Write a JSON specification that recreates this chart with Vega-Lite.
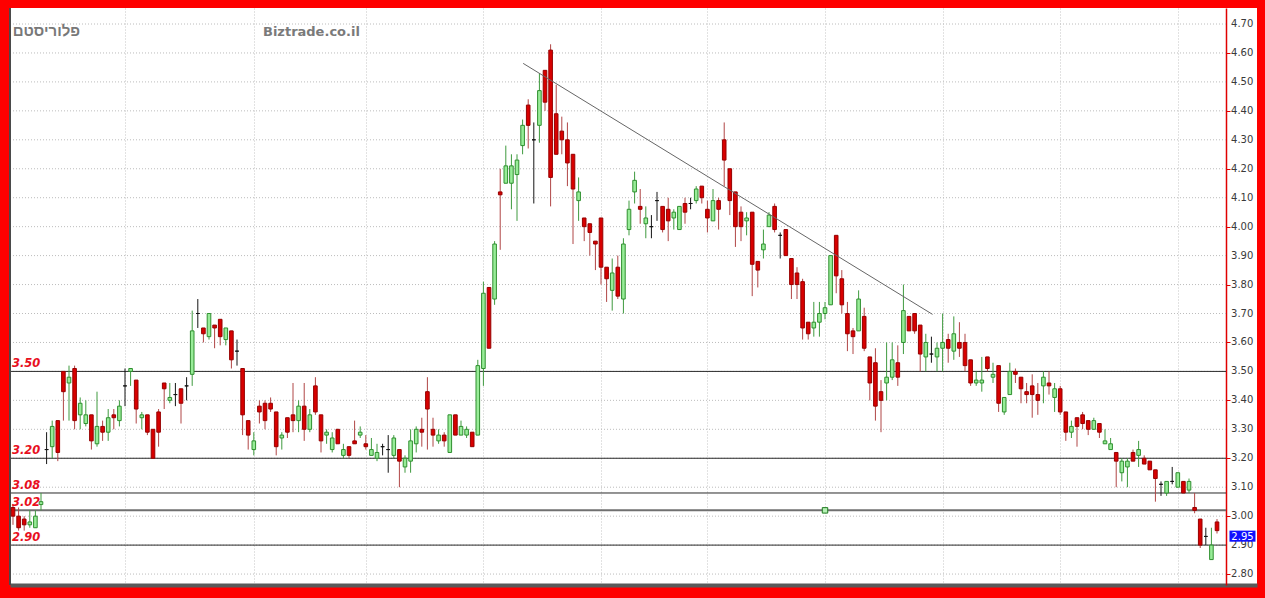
{
  "$schema": "https://vega.github.io/schema/vega-lite/v6.json",
  "width": 1247,
  "height": 577,
  "autosize": {"type": "none"},
  "padding": {"left": 10, "top": 8, "right": 8, "bottom": 13},
  "background": "#fe0000",
  "config": {"view": {"fill": "#ffffff", "stroke": null}},
  "datasets": {
    "candles": [
      {"d":0,"open":3.03,"high":3.04,"low":2.97,"close":3.00},
      {"d":1,"open":3.00,"high":3.03,"low":2.95,"close":2.96},
      {"d":2,"open":2.99,"high":3.00,"low":2.95,"close":2.97},
      {"d":3,"open":2.97,"high":3.02,"low":2.96,"close":2.98},
      {"d":4,"open":2.96,"high":3.02,"low":2.96,"close":3.00},
      {"d":5,"open":3.04,"high":3.08,"low":3.02,"close":3.05},
      {"d":6,"open":3.23,"high":3.29,"low":3.18,"close":3.23},
      {"d":7,"open":3.24,"high":3.33,"low":3.20,"close":3.31},
      {"d":8,"open":3.33,"high":3.33,"low":3.19,"close":3.22},
      {"d":9,"open":3.50,"high":3.50,"low":3.33,"close":3.43},
      {"d":10,"open":3.46,"high":3.52,"low":3.33,"close":3.48},
      {"d":11,"open":3.51,"high":3.52,"low":3.30,"close":3.33},
      {"d":12,"open":3.35,"high":3.41,"low":3.30,"close":3.39},
      {"d":13,"open":3.32,"high":3.40,"low":3.31,"close":3.35},
      {"d":14,"open":3.35,"high":3.35,"low":3.23,"close":3.26},
      {"d":15,"open":3.25,"high":3.43,"low":3.24,"close":3.31},
      {"d":16,"open":3.31,"high":3.33,"low":3.26,"close":3.29},
      {"d":17,"open":3.29,"high":3.37,"low":3.26,"close":3.34},
      {"d":18,"open":3.35,"high":3.37,"low":3.30,"close":3.34},
      {"d":19,"open":3.33,"high":3.40,"low":3.31,"close":3.38},
      {"d":20,"open":3.45,"high":3.51,"low":3.38,"close":3.45},
      {"d":21,"open":3.50,"high":3.51,"low":3.45,"close":3.51},
      {"d":22,"open":3.47,"high":3.47,"low":3.32,"close":3.37},
      {"d":23,"open":3.34,"high":3.36,"low":3.30,"close":3.35},
      {"d":24,"open":3.35,"high":3.35,"low":3.28,"close":3.29},
      {"d":25,"open":3.30,"high":3.30,"low":3.20,"close":3.20},
      {"d":26,"open":3.36,"high":3.37,"low":3.24,"close":3.29},
      {"d":27,"open":3.46,"high":3.46,"low":3.37,"close":3.44},
      {"d":28,"open":3.40,"high":3.46,"low":3.39,"close":3.41},
      {"d":29,"open":3.42,"high":3.46,"low":3.38,"close":3.42},
      {"d":30,"open":3.44,"high":3.44,"low":3.32,"close":3.39},
      {"d":31,"open":3.45,"high":3.48,"low":3.40,"close":3.45},
      {"d":32,"open":3.49,"high":3.71,"low":3.45,"close":3.64},
      {"d":33,"open":3.70,"high":3.75,"low":3.65,"close":3.70},
      {"d":34,"open":3.65,"high":3.65,"low":3.60,"close":3.63},
      {"d":35,"open":3.62,"high":3.70,"low":3.61,"close":3.70},
      {"d":36,"open":3.66,"high":3.66,"low":3.58,"close":3.65},
      {"d":37,"open":3.68,"high":3.68,"low":3.59,"close":3.62},
      {"d":38,"open":3.61,"high":3.65,"low":3.59,"close":3.65},
      {"d":39,"open":3.64,"high":3.64,"low":3.51,"close":3.54},
      {"d":40,"open":3.57,"high":3.61,"low":3.52,"close":3.57},
      {"d":41,"open":3.51,"high":3.51,"low":3.28,"close":3.35},
      {"d":42,"open":3.33,"high":3.33,"low":3.23,"close":3.28},
      {"d":43,"open":3.23,"high":3.29,"low":3.21,"close":3.26},
      {"d":44,"open":3.38,"high":3.40,"low":3.32,"close":3.36},
      {"d":45,"open":3.39,"high":3.40,"low":3.30,"close":3.33},
      {"d":46,"open":3.39,"high":3.41,"low":3.36,"close":3.37},
      {"d":47,"open":3.36,"high":3.36,"low":3.21,"close":3.24},
      {"d":48,"open":3.27,"high":3.29,"low":3.23,"close":3.28},
      {"d":49,"open":3.34,"high":3.34,"low":3.27,"close":3.29},
      {"d":50,"open":3.35,"high":3.46,"low":3.29,"close":3.33},
      {"d":51,"open":3.33,"high":3.40,"low":3.29,"close":3.38},
      {"d":52,"open":3.38,"high":3.46,"low":3.26,"close":3.30},
      {"d":53,"open":3.30,"high":3.37,"low":3.29,"close":3.35},
      {"d":54,"open":3.45,"high":3.48,"low":3.35,"close":3.36},
      {"d":55,"open":3.35,"high":3.35,"low":3.22,"close":3.26},
      {"d":56,"open":3.28,"high":3.30,"low":3.25,"close":3.29},
      {"d":57,"open":3.23,"high":3.29,"low":3.22,"close":3.27},
      {"d":58,"open":3.30,"high":3.30,"low":3.25,"close":3.25},
      {"d":59,"open":3.21,"high":3.25,"low":3.20,"close":3.23},
      {"d":60,"open":3.24,"high":3.24,"low":3.20,"close":3.21},
      {"d":61,"open":3.26,"high":3.33,"low":3.25,"close":3.25},
      {"d":62,"open":3.28,"high":3.31,"low":3.27,"close":3.29},
      {"d":63,"open":3.25,"high":3.28,"low":3.23,"close":3.24},
      {"d":64,"open":3.21,"high":3.27,"low":3.21,"close":3.23},
      {"d":65,"open":3.20,"high":3.25,"low":3.19,"close":3.22},
      {"d":66,"open":3.24,"high":3.25,"low":3.21,"close":3.24},
      {"d":67,"open":3.23,"high":3.28,"low":3.15,"close":3.23},
      {"d":68,"open":3.21,"high":3.28,"low":3.20,"close":3.27},
      {"d":69,"open":3.23,"high":3.23,"low":3.10,"close":3.19},
      {"d":70,"open":3.17,"high":3.21,"low":3.15,"close":3.20},
      {"d":71,"open":3.19,"high":3.30,"low":3.15,"close":3.26},
      {"d":72,"open":3.25,"high":3.31,"low":3.22,"close":3.30},
      {"d":73,"open":3.30,"high":3.34,"low":3.24,"close":3.29},
      {"d":74,"open":3.43,"high":3.48,"low":3.23,"close":3.37},
      {"d":75,"open":3.30,"high":3.34,"low":3.24,"close":3.28},
      {"d":76,"open":3.26,"high":3.30,"low":3.25,"close":3.28},
      {"d":77,"open":3.28,"high":3.29,"low":3.24,"close":3.26},
      {"d":78,"open":3.22,"high":3.35,"low":3.22,"close":3.35},
      {"d":79,"open":3.35,"high":3.35,"low":3.28,"close":3.28},
      {"d":80,"open":3.28,"high":3.33,"low":3.28,"close":3.31},
      {"d":81,"open":3.28,"high":3.31,"low":3.27,"close":3.30},
      {"d":82,"open":3.29,"high":3.29,"low":3.24,"close":3.24},
      {"d":83,"open":3.28,"high":3.54,"low":3.28,"close":3.52},
      {"d":84,"open":3.51,"high":3.81,"low":3.45,"close":3.77},
      {"d":85,"open":3.79,"high":3.79,"low":3.58,"close":3.58},
      {"d":86,"open":3.75,"high":3.95,"low":3.73,"close":3.94},
      {"d":87,"open":4.12,"high":4.20,"low":3.92,"close":4.11},
      {"d":88,"open":4.15,"high":4.28,"low":4.15,"close":4.21},
      {"d":89,"open":4.15,"high":4.25,"low":4.06,"close":4.21},
      {"d":90,"open":4.18,"high":4.25,"low":4.02,"close":4.23},
      {"d":91,"open":4.28,"high":4.37,"low":4.25,"close":4.35},
      {"d":92,"open":4.42,"high":4.44,"low":4.27,"close":4.35},
      {"d":93,"open":4.30,"high":4.36,"low":4.08,"close":4.30},
      {"d":94,"open":4.35,"high":4.53,"low":4.29,"close":4.47},
      {"d":95,"open":4.54,"high":4.54,"low":4.40,"close":4.43},
      {"d":96,"open":4.61,"high":4.63,"low":4.07,"close":4.17},
      {"d":97,"open":4.39,"high":4.49,"low":4.25,"close":4.25},
      {"d":98,"open":4.33,"high":4.38,"low":4.25,"close":4.30},
      {"d":99,"open":4.30,"high":4.36,"low":4.14,"close":4.22},
      {"d":100,"open":4.25,"high":4.25,"low":3.94,"close":4.13},
      {"d":101,"open":4.09,"high":4.17,"low":4.02,"close":4.12},
      {"d":102,"open":4.03,"high":4.03,"low":3.95,"close":4.00},
      {"d":103,"open":4.01,"high":4.01,"low":3.90,"close":3.98},
      {"d":104,"open":3.95,"high":3.95,"low":3.85,"close":3.94},
      {"d":105,"open":4.03,"high":4.03,"low":3.80,"close":3.86},
      {"d":106,"open":3.86,"high":3.86,"low":3.74,"close":3.82},
      {"d":107,"open":3.78,"high":3.89,"low":3.71,"close":3.84},
      {"d":108,"open":3.86,"high":3.90,"low":3.75,"close":3.76},
      {"d":109,"open":3.75,"high":3.96,"low":3.70,"close":3.94},
      {"d":110,"open":3.99,"high":4.09,"low":3.97,"close":4.06},
      {"d":111,"open":4.12,"high":4.19,"low":4.08,"close":4.16},
      {"d":112,"open":4.07,"high":4.13,"low":4.01,"close":4.06},
      {"d":113,"open":4.01,"high":4.07,"low":3.96,"close":4.03},
      {"d":114,"open":4.00,"high":4.04,"low":3.96,"close":4.00},
      {"d":115,"open":4.09,"high":4.12,"low":4.02,"close":4.09},
      {"d":116,"open":4.07,"high":4.07,"low":3.98,"close":3.99},
      {"d":117,"open":4.06,"high":4.10,"low":3.95,"close":4.02},
      {"d":118,"open":4.03,"high":4.06,"low":3.99,"close":4.05},
      {"d":119,"open":3.99,"high":4.07,"low":3.99,"close":4.07},
      {"d":120,"open":4.08,"high":4.10,"low":4.01,"close":4.05},
      {"d":121,"open":4.08,"high":4.10,"low":4.06,"close":4.08},
      {"d":122,"open":4.09,"high":4.14,"low":4.08,"close":4.13},
      {"d":123,"open":4.14,"high":4.14,"low":4.08,"close":4.10},
      {"d":124,"open":4.06,"high":4.09,"low":3.98,"close":4.03},
      {"d":125,"open":4.02,"high":4.13,"low":4.02,"close":4.09},
      {"d":126,"open":4.09,"high":4.10,"low":3.99,"close":4.06},
      {"d":127,"open":4.30,"high":4.36,"low":4.14,"close":4.23},
      {"d":128,"open":4.20,"high":4.20,"low":4.04,"close":4.09},
      {"d":129,"open":4.12,"high":4.12,"low":3.93,"close":4.00},
      {"d":130,"open":4.05,"high":4.07,"low":3.95,"close":4.00},
      {"d":131,"open":4.02,"high":4.05,"low":3.97,"close":4.03},
      {"d":132,"open":4.05,"high":4.05,"low":3.76,"close":3.87},
      {"d":133,"open":3.88,"high":3.88,"low":3.79,"close":3.85},
      {"d":134,"open":3.92,"high":3.99,"low":3.89,"close":3.94},
      {"d":135,"open":4.00,"high":4.05,"low":4.00,"close":4.04},
      {"d":136,"open":4.07,"high":4.08,"low":3.98,"close":3.99},
      {"d":137,"open":3.97,"high":3.98,"low":3.89,"close":3.97},
      {"d":138,"open":3.99,"high":3.99,"low":3.90,"close":3.90},
      {"d":139,"open":3.89,"high":3.89,"low":3.75,"close":3.80},
      {"d":140,"open":3.84,"high":3.86,"low":3.75,"close":3.80},
      {"d":141,"open":3.81,"high":3.82,"low":3.61,"close":3.65},
      {"d":142,"open":3.67,"high":3.67,"low":3.61,"close":3.63},
      {"d":143,"open":3.65,"high":3.74,"low":3.62,"close":3.67},
      {"d":144,"open":3.67,"high":3.74,"low":3.62,"close":3.70},
      {"d":145,"open":3.70,"high":3.74,"low":3.68,"close":3.72},
      {"d":146,"open":3.73,"high":3.90,"low":3.73,"close":3.90},
      {"d":147,"open":3.97,"high":3.97,"low":3.77,"close":3.83},
      {"d":148,"open":3.82,"high":3.85,"low":3.70,"close":3.73},
      {"d":149,"open":3.70,"high":3.74,"low":3.57,"close":3.63},
      {"d":150,"open":3.64,"high":3.65,"low":3.56,"close":3.62},
      {"d":151,"open":3.64,"high":3.78,"low":3.64,"close":3.75},
      {"d":152,"open":3.69,"high":3.72,"low":3.57,"close":3.58},
      {"d":153,"open":3.55,"high":3.55,"low":3.40,"close":3.46},
      {"d":154,"open":3.53,"high":3.58,"low":3.33,"close":3.38},
      {"d":155,"open":3.43,"high":3.47,"low":3.29,"close":3.40},
      {"d":156,"open":3.46,"high":3.60,"low":3.40,"close":3.48},
      {"d":157,"open":3.48,"high":3.60,"low":3.47,"close":3.54},
      {"d":158,"open":3.53,"high":3.59,"low":3.45,"close":3.48},
      {"d":159,"open":3.60,"high":3.80,"low":3.56,"close":3.71},
      {"d":160,"open":3.69,"high":3.69,"low":3.64,"close":3.64},
      {"d":161,"open":3.70,"high":3.70,"low":3.63,"close":3.64},
      {"d":162,"open":3.66,"high":3.66,"low":3.50,"close":3.56},
      {"d":163,"open":3.55,"high":3.63,"low":3.50,"close":3.60},
      {"d":164,"open":3.56,"high":3.62,"low":3.53,"close":3.56},
      {"d":165,"open":3.55,"high":3.60,"low":3.50,"close":3.58},
      {"d":166,"open":3.58,"high":3.70,"low":3.50,"close":3.60},
      {"d":167,"open":3.61,"high":3.63,"low":3.53,"close":3.58},
      {"d":168,"open":3.57,"high":3.69,"low":3.54,"close":3.63},
      {"d":169,"open":3.60,"high":3.67,"low":3.55,"close":3.58},
      {"d":170,"open":3.60,"high":3.63,"low":3.50,"close":3.52},
      {"d":171,"open":3.54,"high":3.54,"low":3.45,"close":3.46},
      {"d":172,"open":3.46,"high":3.50,"low":3.45,"close":3.47},
      {"d":173,"open":3.46,"high":3.55,"low":3.43,"close":3.47},
      {"d":174,"open":3.55,"high":3.55,"low":3.50,"close":3.51},
      {"d":175,"open":3.48,"high":3.53,"low":3.46,"close":3.49},
      {"d":176,"open":3.52,"high":3.52,"low":3.36,"close":3.39},
      {"d":177,"open":3.36,"high":3.41,"low":3.35,"close":3.41},
      {"d":178,"open":3.42,"high":3.53,"low":3.42,"close":3.50},
      {"d":179,"open":3.50,"high":3.51,"low":3.46,"close":3.49},
      {"d":180,"open":3.48,"high":3.48,"low":3.39,"close":3.44},
      {"d":181,"open":3.43,"high":3.46,"low":3.39,"close":3.42},
      {"d":182,"open":3.45,"high":3.49,"low":3.34,"close":3.42},
      {"d":183,"open":3.42,"high":3.46,"low":3.35,"close":3.40},
      {"d":184,"open":3.45,"high":3.50,"low":3.39,"close":3.48},
      {"d":185,"open":3.46,"high":3.50,"low":3.42,"close":3.45},
      {"d":186,"open":3.41,"high":3.46,"low":3.36,"close":3.44},
      {"d":187,"open":3.44,"high":3.45,"low":3.35,"close":3.36},
      {"d":188,"open":3.36,"high":3.36,"low":3.26,"close":3.29},
      {"d":189,"open":3.29,"high":3.33,"low":3.27,"close":3.31},
      {"d":190,"open":3.34,"high":3.34,"low":3.24,"close":3.31},
      {"d":191,"open":3.35,"high":3.36,"low":3.30,"close":3.32},
      {"d":192,"open":3.33,"high":3.33,"low":3.28,"close":3.30},
      {"d":193,"open":3.30,"high":3.34,"low":3.30,"close":3.33},
      {"d":194,"open":3.32,"high":3.32,"low":3.27,"close":3.29},
      {"d":195,"open":3.25,"high":3.30,"low":3.25,"close":3.26},
      {"d":196,"open":3.23,"high":3.27,"low":3.23,"close":3.25},
      {"d":197,"open":3.22,"high":3.22,"low":3.10,"close":3.19},
      {"d":198,"open":3.15,"high":3.20,"low":3.12,"close":3.19},
      {"d":199,"open":3.17,"high":3.20,"low":3.10,"close":3.19},
      {"d":200,"open":3.22,"high":3.23,"low":3.19,"close":3.19},
      {"d":201,"open":3.21,"high":3.26,"low":3.17,"close":3.23},
      {"d":202,"open":3.20,"high":3.21,"low":3.18,"close":3.18},
      {"d":203,"open":3.19,"high":3.19,"low":3.16,"close":3.16},
      {"d":204,"open":3.16,"high":3.16,"low":3.05,"close":3.13},
      {"d":205,"open":3.11,"high":3.12,"low":3.07,"close":3.11},
      {"d":206,"open":3.08,"high":3.12,"low":3.07,"close":3.12},
      {"d":207,"open":3.12,"high":3.17,"low":3.11,"close":3.12},
      {"d":208,"open":3.10,"high":3.15,"low":3.10,"close":3.15},
      {"d":209,"open":3.12,"high":3.12,"low":3.08,"close":3.08},
      {"d":210,"open":3.09,"high":3.13,"low":3.08,"close":3.12},
      {"d":211,"open":3.03,"high":3.08,"low":3.01,"close":3.02},
      {"d":212,"open":2.99,"high":2.99,"low":2.89,"close":2.90},
      {"d":213,"open":2.93,"high":2.96,"low":2.90,"close":2.93},
      {"d":214,"open":2.85,"high":2.96,"low":2.85,"close":2.90},
      {"d":215,"open":2.98,"high":2.99,"low":2.94,"close":2.95}
    ],
    "grid": [
      {"price":2.8},{"price":2.9},{"price":3.0},{"price":3.1},{"price":3.2},
      {"price":3.3},{"price":3.4},{"price":3.5},{"price":3.6},{"price":3.7},
      {"price":3.8},{"price":3.9},{"price":4.0},{"price":4.1},{"price":4.2},
      {"price":4.3},{"price":4.4},{"price":4.5},{"price":4.6},{"price":4.7}
    ],
    "levels": [
      {"level":3.50,"label":"3.50"},
      {"level":3.20,"label":"3.20"},
      {"level":3.08,"label":"3.08"},
      {"level":3.02,"label":"3.02"},
      {"level":2.90,"label":"2.90"}
    ],
    "trend": [
      {"d":91.1,"price":4.564},
      {"d":164.2,"price":3.697}
    ],
    "alert": [{"d":145,"price":3.02}],
    "last": [{"price":2.95,"label":"2.95"}],
    "names": [{"name":"פלוריסטם","site":"Biztrade.co.il"}]
  },
  "layer": [
    {
      "data": {"name": "grid"},
      "mark": {"type": "rule", "color": "#bcbcbc", "strokeWidth": 1, "strokeDash": [1, 2]},
      "encoding": {
        "x": {
          "datum": -0.5357,
          "scale": {"domain": [-0.5357, 222.14], "nice": false, "zero": false, "padding": 0},
          "axis": {
            "orient": "bottom", "labels": false, "ticks": false,
            "domainColor": "#5a5a5a", "domainWidth": 4,
            "grid": true, "gridColor": "#c4c4c4", "gridDash": [1, 2],
            "values": [20, 43, 63, 84, 105, 124, 145, 166, 187, 208]
          }
        },
        "x2": {"datum": 216.61},
        "y": {
          "field": "price", "type": "quantitative", "title": null,
          "scale": {"domain": [2.7622, 4.7553], "nice": false, "zero": false, "padding": 0},
          "axis": {
            "orient": "right", "offset": -31, "grid": false, "labels": false,
            "values": [2.8, 2.9, 3.0, 3.1, 3.2, 3.3, 3.4, 3.5, 3.6, 3.7, 3.8, 3.9, 4.0, 4.1, 4.2, 4.3, 4.4, 4.5, 4.6, 4.7],
            "domainColor": "#e00000", "domainWidth": 1.5,
            "tickColor": "#e00000", "tickSize": 4
          }
        }
      }
    },
    {
      "data": {"name": "grid"},
      "mark": {"type": "text", "align": "left", "baseline": "middle", "dx": 5, "font": "DejaVu Sans", "fontSize": 10, "color": "#3a3a3a"},
      "encoding": {
        "x": {"datum": 216.61},
        "y": {"field": "price", "type": "quantitative", "title": null},
        "text": {"field": "price", "type": "quantitative", "format": ".2f"}
      }
    },
    {
      "data": {"name": "levels"},
      "mark": {"type": "rule", "color": "#2a2a2a"},
      "encoding": {
        "x": {"datum": -0.5357},
        "x2": {"datum": 216.61},
        "y": {"field": "level", "type": "quantitative", "title": null},
        "strokeWidth": {"condition": {"test": "datum.level == 3.02", "value": 2}, "value": 1},
        "color": {"condition": {"test": "datum.level == 3.02", "value": "#707070"}, "value": "#2a2a2a"}
      }
    },
    {
      "data": {"name": "grid"},
      "mark": {"type": "rule", "color": "#4a4a4a", "strokeWidth": 2},
      "encoding": {"x": {"datum": -0.5357}}
    },
    {
      "data": {"name": "candles"},
      "mark": {"type": "rule", "strokeWidth": 1},
      "encoding": {
        "x": {"field": "d", "type": "quantitative", "title": null},
        "y": {"field": "low", "type": "quantitative", "title": null},
        "y2": {"field": "high"},
        "color": {
          "condition": [
            {"test": "datum.close < datum.open", "value": "#b04646"},
            {"test": "datum.close > datum.open", "value": "#3f9a3f"}
          ],
          "value": "#151515"
        }
      }
    },
    {
      "data": {"name": "candles"},
      "mark": {"type": "bar", "size": 3.6, "strokeWidth": 1},
      "encoding": {
        "x": {"field": "d", "type": "quantitative", "title": null},
        "y": {"field": "open", "type": "quantitative", "title": null},
        "y2": {"field": "close"},
        "fill": {
          "condition": [
            {"test": "datum.close < datum.open", "value": "#d80000"},
            {"test": "datum.close > datum.open", "value": "#98ec98"}
          ],
          "value": "#151515"
        },
        "stroke": {
          "condition": [
            {"test": "datum.close < datum.open", "value": "#960000"},
            {"test": "datum.close > datum.open", "value": "#2f8f2f"}
          ],
          "value": "#151515"
        }
      }
    },
    {
      "data": {"name": "trend"},
      "mark": {"type": "line", "color": "#666666", "strokeWidth": 1},
      "encoding": {
        "x": {"field": "d", "type": "quantitative", "title": null},
        "y": {"field": "price", "type": "quantitative", "title": null}
      }
    },
    {
      "data": {"name": "levels"},
      "mark": {
        "type": "text", "align": "left", "baseline": "alphabetic", "dx": 2, "dy": -4,
        "font": "DejaVu Sans", "fontWeight": "bold", "fontStyle": "italic",
        "fontSize": 11.5, "color": "#e8101e"
      },
      "encoding": {
        "x": {"datum": -0.5357},
        "y": {"field": "level", "type": "quantitative", "title": null},
        "text": {"field": "label"}
      }
    },
    {
      "data": {"name": "names"},
      "mark": {
        "type": "text", "align": "left", "baseline": "alphabetic",
        "font": "Liberation Sans", "fontWeight": "bold", "fontSize": 15, "color": "#787878"
      },
      "encoding": {
        "x": {"datum": -0.05},
        "y": {"datum": 4.6586},
        "text": {"field": "name"}
      }
    },
    {
      "data": {"name": "names"},
      "mark": {
        "type": "text", "align": "left", "baseline": "alphabetic",
        "font": "DejaVu Sans", "fontWeight": "bold", "fontSize": 13, "color": "#7a7a7a"
      },
      "encoding": {
        "x": {"datum": 44.64},
        "y": {"datum": 4.6586},
        "text": {"field": "site"}
      }
    },
    {
      "data": {"name": "alert"},
      "mark": {"type": "point", "shape": "square", "size": 30, "filled": true, "fill": "#b4f0b4", "stroke": "#1f7a1f", "strokeWidth": 1, "opacity": 1},
      "encoding": {
        "x": {"field": "d", "type": "quantitative", "title": null},
        "y": {"field": "price", "type": "quantitative", "title": null}
      }
    },
    {
      "data": {"name": "last"},
      "mark": {"type": "point", "shape": "M-1,0H1V0.85H-1Z", "size": 676, "filled": true, "color": "#1010ff", "opacity": 1, "strokeWidth": 0},
      "encoding": {
        "x": {"datum": 219.55},
        "y": {"field": "price", "type": "quantitative", "title": null}
      }
    },
    {
      "data": {"name": "last"},
      "mark": {"type": "text", "align": "center", "baseline": "middle", "dy": 6, "font": "DejaVu Sans", "fontSize": 10, "color": "#ffffff"},
      "encoding": {
        "x": {"datum": 219.55},
        "y": {"field": "price", "type": "quantitative", "title": null},
        "text": {"field": "label"}
      }
    }
  ]
}
